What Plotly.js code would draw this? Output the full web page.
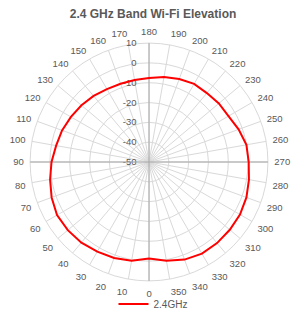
<!DOCTYPE html>
<html>
<head>
<meta charset="utf-8">
<script src="https://cdn.plot.ly/plotly-3.0.1.min.js"></script>
<style>html,body{margin:0;padding:0;background:#fff;}#chart{width:306px;height:324px;}</style>
</head>
<body>
<div id="chart"></div>
<script>
// Elevation angle (degrees) and measured gain (dB) for the 2.4 GHz band
const angles = [0,10,20,30,40,50,60,70,80,90,100,110,120,130,140,150,160,170,
                180,190,200,210,220,230,240,250,260,270,280,290,300,310,320,330,340,350,360];
const gain24 = [-1.3,0.6,1.5,2.2,3.1,3.5,3.6,2.3,0.7,-0.8,-2.4,-3.3,-4.5,-5.5,-6.5,-7.5,-8.0,-8.0,
                -7.6,-6.5,-5.4,-4.5,-4.6,-4.0,-3.7,-1.9,-0.1,0.3,1.2,2.3,3.0,3.2,3.4,3.4,2.4,0.6,-1.3];
const angleTicks = [0,10,20,30,40,50,60,70,80,90,100,110,120,130,140,150,160,170,
                    180,190,200,210,220,230,240,250,260,270,280,290,300,310,320,330,340,350];
const radialTicks = [-50,-40,-30,-20,-10,0,10];
const mainAxes = [0,90,180,270];
const radialRange = [-50,10];
const seriesName = '2.4GHz';
const titleText = '2.4 GHz Band Wi-Fi Elevation';

const txt = '#595959';
const fontFam = '"Liberation Sans", Arial, sans-serif';
const dom = {x:[0.098,0.876], y:[0.133,0.867]};

// radial labels sit a little to the left of the vertical axis:
// add a small invisible gap after each right-anchored label
const radialText = radialTicks.map(v => String(v) +
  '<span style="color:rgba(0,0,0,0)">00</span>');

const traces = [
  {type:'scatterpolar', subplot:'polar', r:[], theta:[], mode:'lines',
   showlegend:false, hoverinfo:'skip'},
  {type:'scatterpolar', subplot:'polar2', r:gain24, theta:angles, mode:'lines',
   name:seriesName, line:{color:'#ff0000', width:2}}
];

const layout = {
  width:306, height:324,
  margin:{l:0,r:0,t:0,b:0},
  paper_bgcolor:'#ffffff',
  font:{family:fontFam, color:txt},
  title:{text:'<b>'+titleText+'</b>', font:{size:12, color:txt, family:fontFam},
         x:0.5, xanchor:'center', y:0.957, yanchor:'middle'},
  showlegend:true,
  legend:{orientation:'h', x:0.5, xanchor:'center', y:0.062, yanchor:'middle',
          font:{size:10, color:txt}, bgcolor:'rgba(0,0,0,0)'},
  polar:{
    domain:dom, bgcolor:'#ffffff',
    angularaxis:{type:'linear', rotation:270, direction:'clockwise',
      tickvals:angleTicks, ticktext:angleTicks.map(String),
      ticks:'outside', ticklen:4, tickcolor:'rgba(0,0,0,0)',
      showgrid:true, gridcolor:'#d9d9d9', gridwidth:1,
      showline:true, linecolor:'#d9d9d9', linewidth:1,
      tickfont:{size:9.5, color:txt}},
    radialaxis:{range:radialRange, tickvals:radialTicks, ticktext:radialText,
      angle:90, side:'counterclockwise',
      showgrid:true, gridcolor:'#d9d9d9', gridwidth:1,
      showline:false, ticks:'', tickfont:{size:9.5, color:txt}, tickangle:90}
  },
  polar2:{
    domain:dom, bgcolor:'rgba(0,0,0,0)',
    angularaxis:{type:'linear', rotation:270, direction:'clockwise',
      tickvals:mainAxes, showticklabels:false, ticks:'',
      showgrid:true, gridcolor:'#a6a6a6', gridwidth:1, showline:false},
    radialaxis:{range:radialRange, showgrid:false, showticklabels:false,
      showline:false, ticks:''}
  }
};

Plotly.newPlot('chart', traces, layout, {staticPlot:true, displayModeBar:false});
</script>
</body>
</html>
